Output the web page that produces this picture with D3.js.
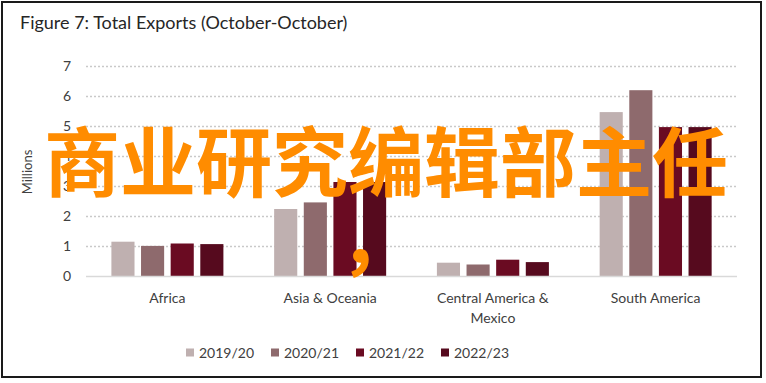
<!DOCTYPE html>
<html>
<head>
<meta charset="utf-8">
<script src="https://cdn.jsdelivr.net/npm/d3@7"></script>
<style>
  html, body { margin: 0; padding: 0; background: #fff; }
  svg { display: block; }
</style>
</head>
<body>
<svg id="chart" width="766" height="383"></svg>
<script>
const categories = ["Africa", "Asia & Oceania", "Central America & Mexico", "South America"];
const categoryLines = [["Africa"], ["Asia & Oceania"], ["Central America &", "Mexico"], ["South America"]];
const seriesNames = ["2019/20", "2020/21", "2021/22", "2022/23"];
const s2019 = [1.16, 2.25, 0.46, 5.48];
const s2020 = [1.02, 2.47, 0.40, 6.21];
const s2021 = [1.10, 3.15, 0.56, 4.98];
const s2022 = [1.08, 3.15, 0.48, 4.98];
const seriesValues = [s2019, s2020, s2021, s2022];
const colors = ["#bfb0b0", "#8e6a6d", "#6a0b22", "#560a1e"];
const yTicks = [0, 1, 2, 3, 4, 5, 6, 7];

const svg = d3.select("#chart");
const font = "Lato, 'Open Sans', sans-serif";
const textColor = "#404040";

// border
svg.append("rect").attr("x", 2).attr("y", 2).attr("width", 759).attr("height", 375)
  .attr("fill", "#fff").attr("stroke", "#1a1a1a").attr("stroke-width", 2);

// title
svg.append("text").attr("x", 20).attr("y", 29)
  .attr("font-family", font).attr("font-size", 18).attr("fill", "#262626")
  .text("Figure 7: Total Exports (October-October)");

const x0 = d3.scaleBand().domain(categories).range([86, 737]).padding(0);
const x1 = d3.scaleBand().domain(seriesNames).range([25.4, 137.4]).paddingInner(0.22).paddingOuter(0);
const y = d3.scaleLinear().domain([0, 7]).range([276.5, 66.5]);

// gridlines
svg.append("g").selectAll("line").data(yTicks.filter(d => d > 0)).join("line")
  .attr("x1", 86).attr("x2", 737)
  .attr("y1", d => y(d)).attr("y2", d => y(d))
  .attr("stroke", "#c9c9c9").attr("stroke-width", 1.3).attr("stroke-dasharray", "2,2");

// y axis tick labels
const yAxis = d3.axisLeft(y).tickValues(yTicks).tickSize(0).tickPadding(0).tickFormat(d3.format("d"));
const yg = svg.append("g").attr("transform", "translate(71,0)").call(yAxis);
yg.select(".domain").remove();
yg.selectAll("text").attr("font-family", font).attr("font-size", 14).attr("fill", textColor);

// y label
svg.append("text").attr("transform", "translate(32,172) rotate(-90)")
  .attr("text-anchor", "middle").attr("font-family", font).attr("font-size", 13).attr("fill", textColor)
  .text("Millions");

// bars
const groups = svg.append("g").selectAll("g").data(categories).join("g")
  .attr("transform", d => `translate(${x0(d)},0)`);
groups.selectAll("rect").data((d, i) => seriesNames.map((s, j) => ({ s, j, v: seriesValues[j][i] })))
  .join("rect")
  .attr("x", d => x1(d.s)).attr("width", x1.bandwidth())
  .attr("y", d => y(d.v)).attr("height", d => y(0) - y(d.v))
  .attr("fill", d => colors[d.j]);

// baseline
svg.append("line").attr("x1", 86).attr("x2", 737).attr("y1", y(0)).attr("y2", y(0))
  .attr("stroke", "#d9d9d9").attr("stroke-width", 1.5);

// category labels
const catG = svg.append("g");
categories.forEach((c, i) => {
  const t = catG.append("text").attr("text-anchor", "middle")
    .attr("font-family", font).attr("font-size", 14).attr("fill", textColor);
  categoryLines[i].forEach((ln, k) => {
    t.append("tspan").attr("x", x0(c) + x0.bandwidth() / 2).attr("y", 303 + k * 20).text(ln);
  });
});

// legend
const legend = svg.append("g");
seriesNames.forEach((s, i) => {
  const lx = 186 + i * 85;
  legend.append("rect").attr("x", lx).attr("y", 348.5).attr("width", 8).attr("height", 8).attr("fill", colors[i]);
  legend.append("text").attr("x", lx + 13).attr("y", 358)
    .attr("font-family", font).attr("font-size", 14).attr("fill", textColor).text(s);
});

// watermark overlay
const wm = svg.append("g").attr("font-family", "'Noto Sans CJK SC', sans-serif")
  .attr("font-weight", "bold").attr("fill", "#ff8c00").attr("text-anchor", "middle");
wm.append("text").attr("x", 386).attr("y", 158).attr("dominant-baseline", "central")
  .attr("font-size", 76).text("商业研究编辑部主任");
wm.append("text").attr("x", 377).attr("y", 234).attr("dominant-baseline", "central")
  .attr("font-size", 76).text("，");
</script>
</body>
</html>
